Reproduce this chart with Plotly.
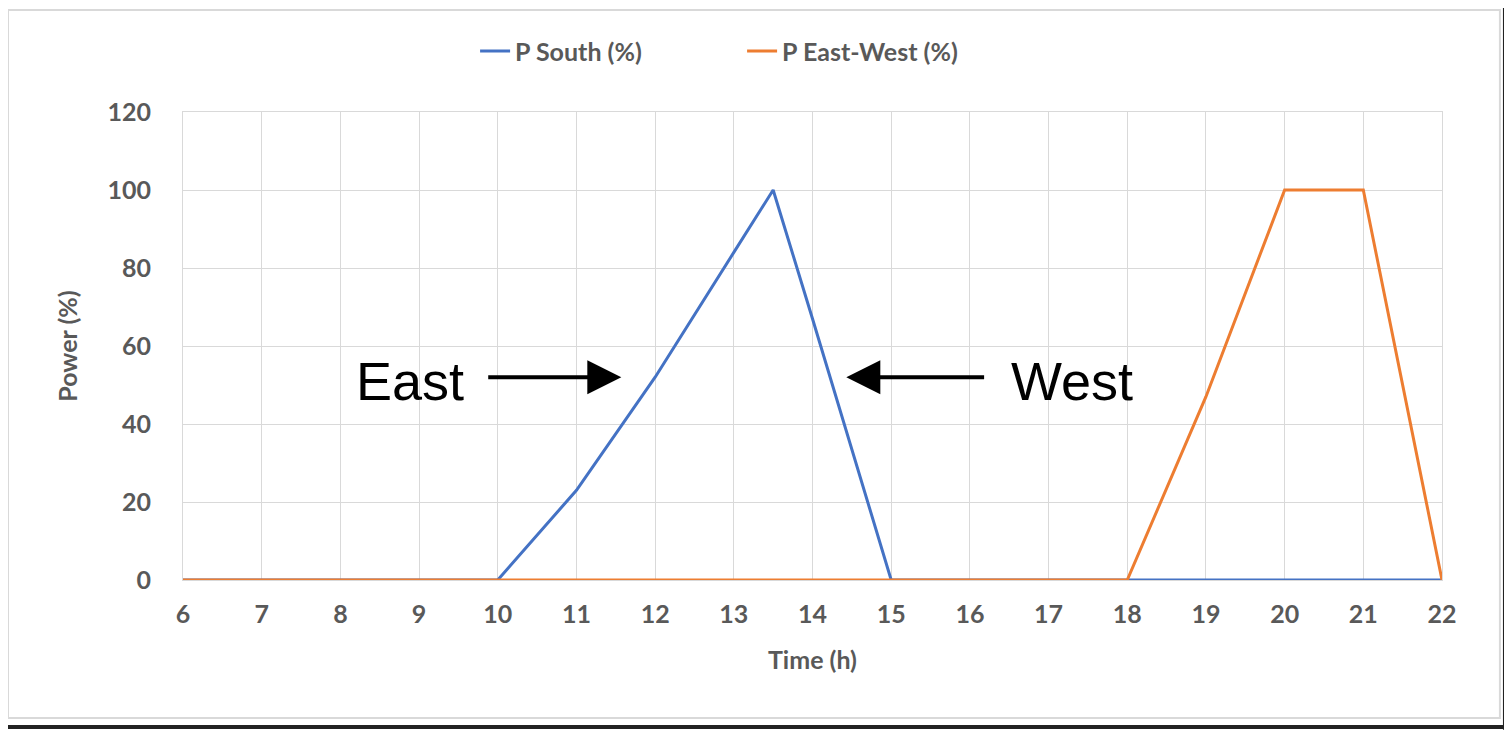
import plotly.graph_objects as go

# data
hours = [6, 7, 8, 9, 10, 11, 12, 13, 13.5, 14, 15, 16, 17, 18, 19, 20, 21, 22]
p_south = [0, 0, 0, 0, 0, 23, 52, 84, 100, 67, 0, 0, 0, 0, 0, 0, 0, 0]
hours_ew = [6, 7, 8, 9, 10, 11, 12, 13, 14, 15, 16, 17, 18, 19, 20, 21, 22]
p_east_west = [0, 0, 0, 0, 0, 0, 0, 0, 0, 0, 0, 0, 0, 47, 100, 100, 0]

x_ticks = list(range(6, 23))
y_ticks = [0, 20, 40, 60, 80, 100, 120]

tick_font = dict(family="Lato", size=25, color="#595959", weight="bold")

fig = go.Figure()
fig.add_trace(go.Scatter(
    x=hours, y=p_south,
    mode="lines",
    name="P South (%)",
    line=dict(color="#4472C4", width=3),
))
fig.add_trace(go.Scatter(
    x=hours_ew, y=p_east_west,
    mode="lines",
    name="P East-West (%)",
    line=dict(color="#ED7D31", width=3),
))

# East / West labels with arrows
fig.add_annotation(x=8.88, y=51, text="East", showarrow=False,
                   font=dict(family="Liberation Sans", size=54, color="black"))
fig.add_annotation(x=11.57, y=52, ax=9.86, ay=52, axref="x", ayref="y",
                   text="", showarrow=True, arrowhead=2, arrowsize=1.7,
                   arrowwidth=4, arrowcolor="black")
fig.add_annotation(x=17.3, y=51, text="West", showarrow=False,
                   font=dict(family="Liberation Sans", size=54, color="black"))
fig.add_annotation(x=14.43, y=52, ax=16.2, ay=52, axref="x", ayref="y",
                   text="", showarrow=True, arrowhead=2, arrowsize=1.7,
                   arrowwidth=4, arrowcolor="black")

# outer chart frame and the dark screenshot edge
fig.add_shape(type="rect", xref="paper", yref="paper",
              x0=-0.139, x1=1.046, y0=-0.295, y1=1.218,
              line=dict(color="#d9d9d9", width=2), layer="below")
fig.add_shape(type="line", xref="paper", yref="paper",
              x0=1.05, x1=1.05, y0=-0.32, y1=1.23,
              line=dict(color="#222222", width=4))
fig.add_shape(type="line", xref="paper", yref="paper",
              x0=-0.15, x1=1.06, y0=-0.314, y1=-0.314,
              line=dict(color="#222222", width=4))

fig.update_layout(
    width=1504, height=722,
    margin=dict(l=175, r=70, t=104, b=150),
    plot_bgcolor="white",
    paper_bgcolor="white",
    showlegend=True,
    legend=dict(
        orientation="h", x=0.232, xanchor="left", y=1.13, yanchor="middle",
        font=dict(family="Lato", size=25, color="#595959", weight="bold"),
        entrywidth=222, entrywidthmode="pixels",
    ),
    xaxis=dict(
        range=[6, 22], tickvals=x_ticks, tickfont=tick_font,
        showgrid=True, gridcolor="#d9d9d9", zeroline=False,
        showline=True, mirror=True, linecolor="#d9d9d9",
        ticks="", ticklabelstandoff=12,
        title=dict(text="Time (h)", font=tick_font, standoff=24),
    ),
    yaxis=dict(
        range=[0, 120], tickvals=y_ticks, tickfont=tick_font,
        showgrid=True, gridcolor="#d9d9d9", zeroline=False,
        showline=True, mirror=True, linecolor="#d9d9d9",
        ticks="", ticklabelstandoff=26,
        title=dict(text="Power (%)", font=tick_font, standoff=22),
    ),
)

fig.write_html("out.html")
